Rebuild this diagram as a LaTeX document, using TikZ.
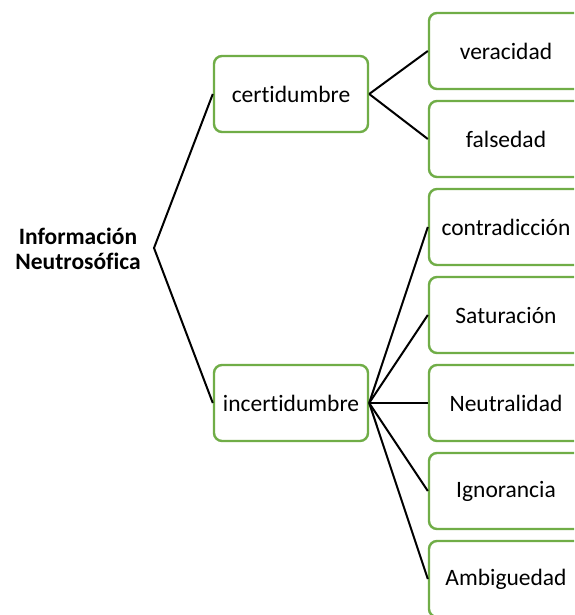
\documentclass[tikz,border=0pt]{standalone}
\usepackage{fontspec}
\setmainfont{Carlito}[Ligatures={NoCommon}]
\definecolor{boxgreen}{RGB}{112,173,71}
\begin{document}
\begin{tikzpicture}[x=0.5pt,y=-0.5pt,
  box/.style={draw=boxgreen, line width=1.2pt, rounded corners=4pt, fill=white,
    minimum width=77pt, minimum height=38pt, inner sep=0pt,
    font=\fontsize{11.75}{14}\selectfont},
  link/.style={line width=1pt, black},
  lbl/.style={font=\fontsize{11.75}{12.5}\selectfont\bfseries, align=center, inner sep=0pt}]
\clip (0,0) rectangle (574,615);
\fill[white] (0,0) rectangle (574,615);
\node[lbl] (info) at (78,249) {Información\\Neutrosófica};
\coordinate (v) at (154,248);
\node[box] (cert) at (291,94) {certidumbre};
\node[box] (incert) at (291,403) {incertidumbre};
\node[box] (ver) at (506,51) {veracidad};
\node[box] (fal) at (506,139) {falsedad};
\node[box] (con) at (506,227) {contradicción};
\node[box] (sat) at (506,315) {Saturación};
\node[box] (neu) at (506,403) {Neutralidad};
\node[box] (ign) at (506,491) {Ignorancia};
\node[box] (amb) at (506,579) {Ambiguedad};
\draw[link] (cert.west) -- (v) -- (incert.west);
\draw[link] (cert.east) -- (ver.west);
\draw[link] (cert.east) -- (fal.west);
\foreach \n in {con,sat,neu,ign,amb} \draw[link] (incert.east) -- (\n.west);
\end{tikzpicture}
\end{document}
